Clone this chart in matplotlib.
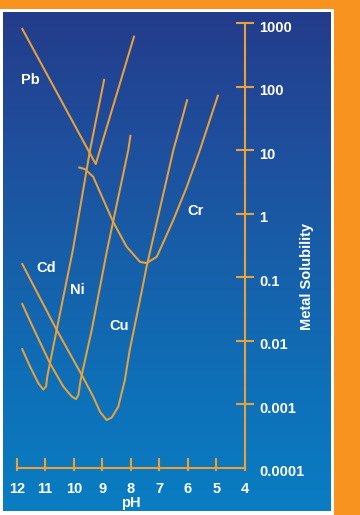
import numpy as np
import matplotlib
matplotlib.use("Agg")
import matplotlib.pyplot as plt
from matplotlib.patches import Rectangle
from matplotlib.colors import LinearSegmentedColormap
from matplotlib.ticker import FixedLocator, NullLocator
from matplotlib.transforms import ScaledTranslation

# ---------------- data ----------------
ph_ticks = [12, 11, 10, 9, 8, 7, 6, 5, 4]
sol_ticks = [1e-4, 1e-3, 1e-2, 1e-1, 1, 10, 100, 1000]
sol_tick_labels = ["0.0001", "0.001", "0.01", "0.1", "1", "10", "100", "1000"]

# log10(solubility)
pb_ph = [11.82, 9.23, 8.77, 7.88]
pb_log = [2.92, 0.78, 1.47, 2.80]

cd_ph = [11.82, 11.53, 11.24, 11.07, 10.97, 10.93, 10.81, 10.60, 10.03, 9.43, 8.93]
cd_log = [-2.12, -2.41, -2.67, -2.77, -2.72, -2.57, -2.30, -1.83, -0.57, 1.00, 2.12]

ni_ph = [11.82, 11.42, 10.83, 10.37, 10.07, 9.92, 9.84, 9.76, 9.37, 8.83, 8.09, 8.01]
ni_log = [-1.41, -1.80, -2.36, -2.72, -2.88, -2.92, -2.86, -2.62, -1.83, -0.57, 1.00, 1.24]

cu_ph = [11.82, 10.60, 9.72, 9.32, 9.08, 8.85, 8.67, 8.44, 8.21, 8.04, 7.68, 7.45, 6.51, 6.22, 6.02]
cu_log = [-0.78, -1.83, -2.54, -2.88, -3.12, -3.25, -3.21, -3.04, -2.62, -2.15, -1.36, -0.84, 1.00, 1.47, 1.80]

cr_ph = [9.84, 9.61, 9.32, 8.62, 8.15, 7.68, 7.45, 7.09, 6.98, 6.51, 6.04, 5.58, 4.94]
cr_log = [0.73, 0.70, 0.58, -0.13, -0.52, -0.76, -0.78, -0.68, -0.57, -0.10, 0.42, 1.00, 1.87]

metal_names = ["Pb", "Cd", "Ni", "Cu", "Cr"]
label_ph = [11.53, 10.96, 9.89, 8.42, 5.72]
label_sol = [127, 0.139, 0.0627, 0.017, 1.1]

# ---------------- style ----------------
W, H = 360, 515
ORANGE_BG = "#F7931E"
LINE = "#E9A23B"
FONT = "Liberation Sans"


def fr(x0, y0, x1, y1):
    return [x0 / W, 1 - y1 / H, (x1 - x0) / W, (y1 - y0) / H]


fig = plt.figure(figsize=(W / 100, H / 100), dpi=100, facecolor=ORANGE_BG)

# white frame
fig.add_artist(Rectangle((0, 0), 334 / W, 1 - 9 / H, transform=fig.transFigure,
                         facecolor="white", edgecolor="none", zorder=0))

# blue gradient panel
bg = fig.add_axes(fr(3, 12, 331, 511))
cmap = LinearSegmentedColormap.from_list(
    "panel", ["#233C8B", "#1F4E9C", "#175FA9", "#0E70B8", "#0A7DC2"])
grad = np.linspace(0, 1, 256).reshape(-1, 1)
bg.imshow(grad, aspect="auto", cmap=cmap, extent=[0, 1, 0, 1], origin="upper")
bg.set_axis_off()

# main axes
ax = fig.add_axes(fr(16.7, 23, 245, 467.7))
ax.patch.set_alpha(0)
ax.set_yscale("log")
ax.set_xlim(12, 4)
ax.set_ylim(1e-4, 1e3)

for xs, ls in [(pb_ph, pb_log), (cd_ph, cd_log), (ni_ph, ni_log),
               (cu_ph, cu_log), (cr_ph, cr_log)]:
    ax.plot(xs, np.power(10.0, ls), color=LINE, lw=1.45,
            solid_joinstyle="round", solid_capstyle="butt", clip_on=False)

for name, px, py in zip(metal_names, label_ph, label_sol):
    ax.text(px, py, name, color="white", fontsize=10.5, fontweight="bold",
            family=FONT, ha="center", va="center")

for s in ["left", "top"]:
    ax.spines[s].set_visible(False)
for s in ["bottom", "right"]:
    ax.spines[s].set_color(LINE)
    ax.spines[s].set_linewidth(1.5)

ax.xaxis.set_major_locator(FixedLocator(ph_ticks))
ax.set_xticklabels([str(v) for v in ph_ticks])
ax.set_xticks(ph_ticks, minor=True)
ax.xaxis.remove_overlapping_locs = False
ax.tick_params(axis="x", which="major", direction="in", length=7, width=1.5,
               color=LINE, labelcolor="white", labelsize=10.5, pad=10)
ax.tick_params(axis="x", which="minor", direction="out", length=2.5, width=1.5,
               color=LINE)

ax.yaxis.tick_right()
ax.yaxis.set_major_locator(FixedLocator(sol_ticks))
ax.yaxis.set_minor_locator(NullLocator())
ax.set_yticklabels(sol_tick_labels)
ax.tick_params(axis="y", which="major", direction="inout", length=12.5, width=1.5,
               color=LINE, labelcolor="white", labelsize=10.5, pad=4)
ax.yaxis.get_major_ticks()[0].tick2line.set_visible(False)

for lbl in ax.get_xticklabels() + ax.get_yticklabels():
    lbl.set_fontweight("bold")
    lbl.set_family(FONT)
for lbl in ax.get_yticklabels():
    lbl.set_transform(lbl.get_transform() +
                      ScaledTranslation(0, -3 / 100, fig.dpi_scale_trans))

ax.set_xlabel("pH", color="white", fontsize=10.5, fontweight="bold",
              family=FONT, labelpad=0)
ax.yaxis.set_label_position("right")
ax.set_ylabel("Metal Solubility", color="white", fontsize=10.5,
              fontweight="bold", family=FONT, rotation=90)
ax.yaxis.set_label_coords((307 - 16.7) / 228.3, (467.7 - 277) / 444.7)
ax.yaxis.label.set_va("center")
ax.yaxis.label.set_ha("center")

fig.savefig("out.png", dpi=100, facecolor=fig.get_facecolor())
